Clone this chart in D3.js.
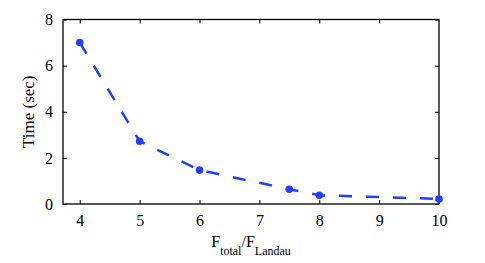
<!DOCTYPE html>
<html><head><meta charset="utf-8">
<script src="https://cdn.jsdelivr.net/npm/d3@7"></script>
<style>body{margin:0;background:#fff}svg{display:block}</style>
</head><body>
<script>
const ratios = [4, 5, 6, 7.5, 8, 10];
const times = [7.0, 2.72, 1.47, 0.64, 0.38, 0.22];
const xTicks = [4, 5, 6, 7, 8, 9, 10];
const yTicks = [0, 2, 4, 6, 8];

const W = 485, H = 263;
const m = {left: 63, right: 46, top: 19.5, bottom: 59};
const svg = d3.select("body").append("svg").attr("width", W).attr("height", H);
const x = d3.scaleLinear().domain([3.72, 10]).range([m.left, W - m.right]);
const y = d3.scaleLinear().domain([0, 8]).range([H - m.bottom, m.top]);
const font = "'Liberation Serif', 'Times New Roman', serif";

function styleAxis(g){
  g.select(".domain").remove();
  g.selectAll("line").attr("stroke", "#000").attr("stroke-width", 1);
  g.selectAll("text").style("font-family", font).attr("font-size", 16).attr("fill", "#000");
}
svg.append("g").attr("transform", `translate(0,${y(0)})`)
  .call(d3.axisBottom(x).tickValues(xTicks).tickFormat(d3.format("d")).tickSizeInner(-4).tickPadding(11))
  .call(styleAxis);
svg.append("g").attr("transform", `translate(0,${y(8)})`)
  .call(d3.axisTop(x).tickValues(xTicks.slice(0,6)).tickFormat("").tickSizeInner(-4))
  .call(styleAxis);
svg.append("g").attr("transform", `translate(${x.range()[0]},0)`)
  .call(d3.axisLeft(y).tickValues(yTicks).tickFormat(d3.format("d")).tickSizeInner(-4).tickPadding(10))
  .call(styleAxis);
svg.append("g").attr("transform", `translate(${x.range()[1]},0)`)
  .call(d3.axisRight(y).tickValues(yTicks).tickFormat("").tickSizeInner(-4))
  .call(styleAxis);
svg.append("rect").attr("x", x.range()[0]).attr("y", y(8))
  .attr("width", x.range()[1] - x.range()[0]).attr("height", y(0) - y(8))
  .attr("fill", "none").attr("stroke", "#000").attr("stroke-width", 1.3);

const color = "#2040ff";
const line = d3.line().x((d,i) => x(ratios[i])).y(d => y(d));
svg.append("path").datum(times).attr("d", line).attr("fill", "none")
  .attr("stroke", color).attr("stroke-width", 2.5).attr("stroke-dasharray", "13,14");
svg.selectAll("circle.pt").data(times).enter().append("circle")
  .attr("cx", (d,i) => x(ratios[i])).attr("cy", d => y(d)).attr("r", 3.8).attr("fill", color);

// labels
const xl = svg.append("text").attr("x", 251).attr("y", 247).attr("text-anchor", "middle")
  .style("font-family", font).attr("font-size", 16).attr("fill", "#000");
xl.append("tspan").text("F");
xl.append("tspan").attr("font-size", 12).attr("dy", 8).text("total");
xl.append("tspan").attr("dy", -8).text("/F");
xl.append("tspan").attr("font-size", 12).attr("dy", 8).text("Landau");

svg.append("text").attr("transform", `translate(34,${(y(0)+y(8))/2}) rotate(-90)`)
  .attr("text-anchor", "middle").style("font-family", font).attr("font-size", 17).attr("fill", "#000")
  .text("Time (sec)");
</script>
</body></html>
